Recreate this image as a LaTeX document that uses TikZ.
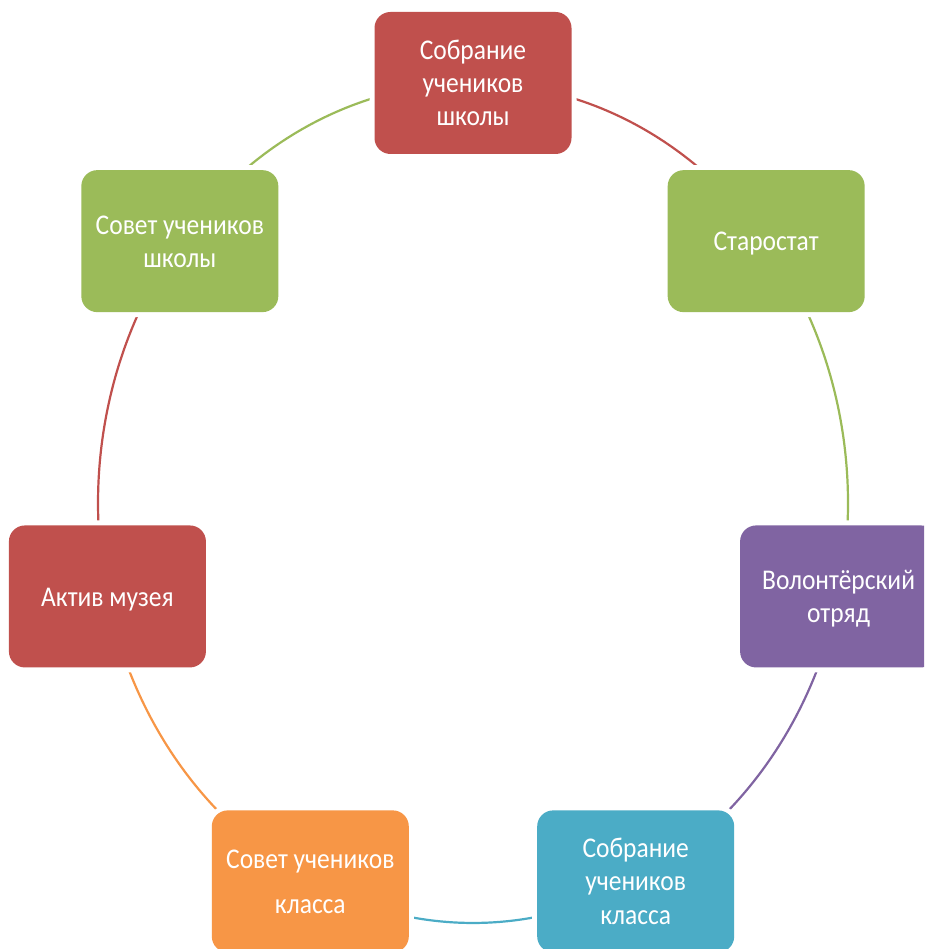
\documentclass[tikz,border=0pt]{standalone}
\usepackage{fontspec}
\usepackage{graphicx}
\setmainfont{Carlito}
\definecolor{cRed}{HTML}{C0504D}
\definecolor{cGreen}{HTML}{9BBB59}
\definecolor{cPurple}{HTML}{8064A2}
\definecolor{cBlue}{HTML}{4BACC6}
\definecolor{cOrange}{HTML}{F79646}
\newcommand\tallText[1]{\raisebox{0pt}[\dimexpr\height+6pt\relax][\depth]{\scalebox{1}[1.12]{\begin{tabular}{@{}c@{}}#1\end{tabular}}}}
\begin{document}
\begin{tikzpicture}[x=1pt,y=1pt,
  box/.style={rectangle, rounded corners=16pt, minimum width=197pt, minimum height=142pt,
    inner sep=0pt, text=white, align=center,
    font=\fontsize{25.5}{29.5}\selectfont,
    preaction={draw=white, line width=10pt}},
  link/.style={line width=2.2pt},
  ell/.style={x radius=375pt, y radius=420pt}]
\useasboundingbox (0,0) rectangle (924,949);
\clip (0,0) rectangle (924,949);
% positions on the ellipse
\foreach \i in {0,...,6}{
  \coordinate (p\i) at ([shift={(473,446)}]{90-\i*360/7}:375 and 420);
}
% connectors along the ellipse
\draw[link, cRed]    (p0) arc[ell, start angle=90,      end angle=38.5714];
\draw[link, cGreen]  (p1) arc[ell, start angle=38.5714, end angle=-12.8571];
\draw[link, cPurple] (p2) arc[ell, start angle=-12.8571, end angle=-64.2857];
\draw[link, cBlue]   (p3) arc[ell, start angle=-64.2857, end angle=-115.7143];
\draw[link, cOrange] (p4) arc[ell, start angle=-115.7143, end angle=-167.1429];
\draw[link, cRed]    (p5) arc[ell, start angle=-167.1429, end angle=-218.5714];
\draw[link, cGreen]  (p6) arc[ell, start angle=-218.5714, end angle=-270];
% boxes
\node[box, fill=cRed]    (n0) at (p0) {\tallText{Собрание\\учеников\\школы}};
\node[box, fill=cGreen]  (n1) at (p1) {\tallText{Старостат}};
\node[box, fill=cPurple] (n2) at (p2) {\tallText{Волонтёрский\\отряд}};
\node[box, fill=cBlue]   (n3) at (p3) {\tallText{Собрание\\учеников\\класса}};
\node[box, fill=cOrange] (n4) at (p4) {\tallText{Совет учеников\\[10.5pt]класса}};
\node[box, fill=cRed]    (n5) at (p5) {\tallText{Актив музея}};
\node[box, fill=cGreen]  (n6) at (p6) {\tallText{Совет учеников\\школы}};
\end{tikzpicture}
\end{document}
